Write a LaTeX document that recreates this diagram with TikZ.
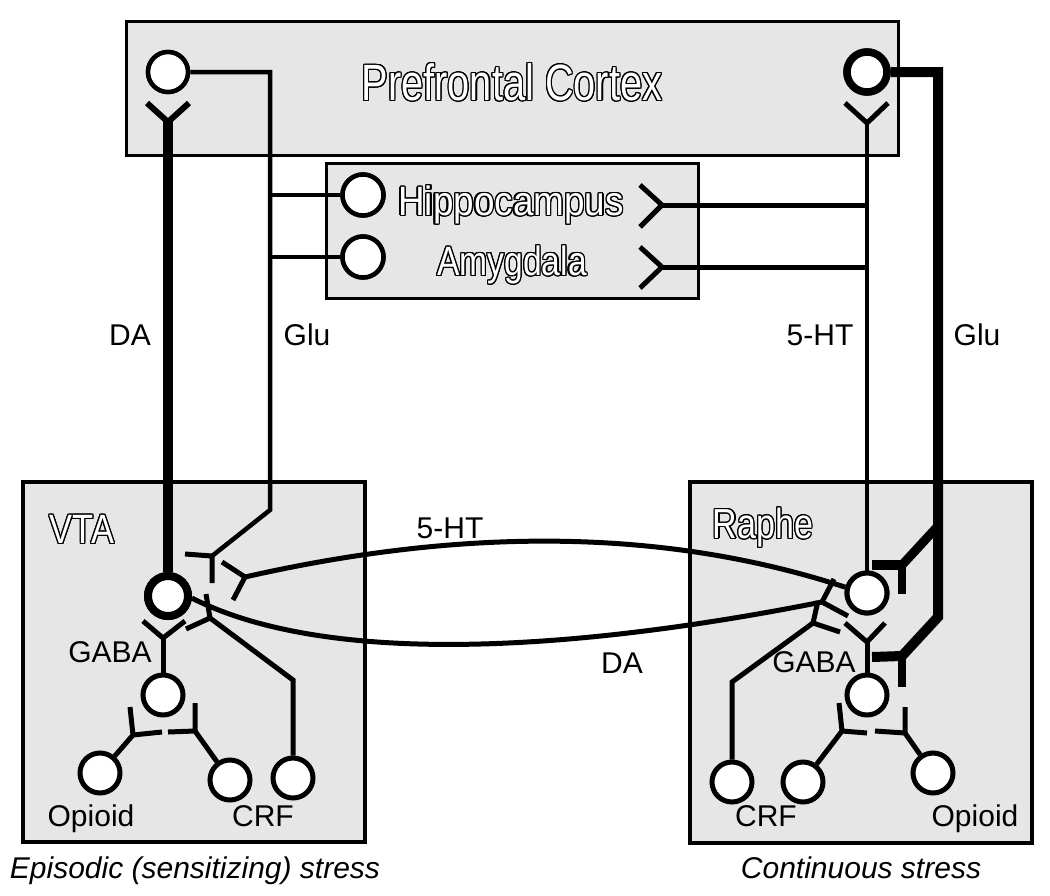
\documentclass[tikz,border=0pt]{standalone}
\usepackage{fontspec}
\setmainfont{Liberation Sans}
\usepackage{contour}
\contourlength{1.4pt}
\usepackage{graphicx}
\definecolor{boxgray}{RGB}{230,230,230}
\newcommand\outlbl[3]{\scalebox{#2}[1]{\fontsize{#1}{#1}\selectfont\color{white}\contour{black}{#3}}}
\begin{document}
\begin{tikzpicture}[x=1pt,y=-1pt,
  region/.style={draw=black, fill=boxgray, line width=4pt, inner sep=0pt},
  neuron/.style={circle, draw=black, fill=white, line width=5pt, minimum size=40pt, inner sep=0pt},
  axon/.style={line width=5pt},
  bigaxon/.style={line width=10pt},
  lbl/.style={font=\fontsize{30}{36}\selectfont, inner sep=0pt, anchor=base},
  olbl/.style={inner sep=0pt, anchor=base}]
\useasboundingbox (0,0) rectangle (1050,895);

% regions
\node[region, line width=3pt, minimum width=772pt, minimum height=134pt] (pfc) at (512,88) {};
\node[region, line width=3pt, minimum width=372pt, minimum height=135pt] (mid) at (512,230.5) {};
\node[region, minimum width=342pt, minimum height=360pt] (vta) at (194,662) {};
\node[region, minimum width=342pt, minimum height=361pt] (raphe) at (861,662.5) {};

% neurons
\node[neuron, line width=4.5pt] (pfcL) at (168,72) {};
\node[neuron, line width=7.5pt] (pfcR) at (867,72) {};
\node[neuron, line width=4.5pt, minimum size=41pt] (hip) at (363,195) {};
\node[neuron, line width=4.5pt, minimum size=41pt] (amy) at (363,257) {};
\node[neuron, line width=8pt] (daV) at (168,596) {};
\node[neuron] (gabaV) at (163,695) {};
\node[neuron] (opV) at (100,773) {};
\node[neuron] (crfVa) at (230,780) {};
\node[neuron] (crfVb) at (293,778) {};
\node[neuron] (htR) at (867,593) {};
\node[neuron] (gabaR) at (867,695) {};
\node[neuron] (crfR) at (732,782) {};
\node[neuron] (midR) at (803,782) {};
\node[neuron] (opR) at (933,773) {};

% coordinates
\coordinate (gluL1) at (270,72);
\coordinate (gluL2) at (270,510);
\coordinate (gluLh) at (270,195);
\coordinate (gluLa) at (270,257);
\coordinate (vGluJ) at (212,556);
\coordinate (daY) at (168,122);
\coordinate (htY) at (867,123);
\coordinate (hipY) at (662,205);
\coordinate (amyY) at (662,267);
\coordinate (hipE) at (867,205);
\coordinate (amyE) at (867,267);
\coordinate (gluR1) at (938,72);
\coordinate (gluR2) at (938,617);
\coordinate (gluRb) at (938,526);
\coordinate (gluJ1) at (902,565);
\coordinate (gluJ2) at (902,656);
\coordinate (vHtJ) at (245,577);
\coordinate (rDaJ) at (822,602);
\coordinate (vCrf1) at (293,680);
\coordinate (vCrfJ) at (210,618);
\coordinate (rCrf1) at (732,682);
\coordinate (rCrfJ) at (813,623);
\coordinate (vGabaY) at (163,638);
\coordinate (rGabaY) at (867,642);
\coordinate (vOpJ) at (133,735);
\coordinate (vCrJ) at (195,731);
\coordinate (rMdJ) at (842,731);
\coordinate (rOpJ) at (905,733);

% Glu from PFC (left)
\draw[axon, line width=4.5pt] (pfcL.east) -- (gluL1) -- (gluL2) -- (vGluJ);
\draw[axon, line width=4.5pt] (gluLh) -- (hip.west);
\draw[axon, line width=4.5pt] (gluLa) -- (amy.west);
\draw[axon] (185,554) -- (vGluJ) -- (212,583);

% DA from VTA to PFC
\draw[bigaxon] (daV.north) -- (daY);
\draw[line width=6pt] (147,103) -- (daY) -- (189,103);

% 5-HT from Raphe to PFC, hippocampus, amygdala
\draw[axon, line width=4.5pt] (htR.north) -- (htY);
\draw[axon] (845,103) -- (htY) -- (888,103);
\draw[axon] (hipY) -- (hipE);
\draw[axon] (640,185) -- (hipY) -- (640,227);
\draw[axon] (amyY) -- (amyE);
\draw[axon] (640,247) -- (amyY) -- (640,288);

% Glu from PFC (right) to Raphe
\draw[bigaxon] (pfcR.east) -- (gluR1) -- (gluR2) -- (gluJ2);
\draw[line width=9pt] (gluRb) -- (gluJ1);
\draw[line width=10pt] (872,565) -- (gluJ1);
\draw[line width=8pt] (902,561) -- (902,594);
\draw[line width=10pt] (872,657) -- (gluJ2);
\draw[line width=8pt] (902,652) -- (902,687);

% 5-HT Raphe -> VTA
\draw[axon] (htR.165) .. controls (640,520) and (430,535) .. (vHtJ);
\draw[axon] (222,562) -- (vHtJ) -- (233,600);

% DA VTA -> Raphe
\draw[axon] (daV.-5) .. controls (330,668) and (580,650) .. (rDaJ);
\draw[axon] (834,579) -- (rDaJ) -- (848,616);

% CRF in VTA
\draw[axon] (crfVb.north) -- (vCrf1) -- (vCrfJ);
\draw[axon] (206,594) -- (vCrfJ) -- (186,629);

% CRF in Raphe
\draw[axon] (crfR.north) -- (rCrf1) -- (rCrfJ);
\draw[axon] (818,601) -- (rCrfJ) -- (840,632);

% GABA neurons
\draw[axon] (gabaV.north) -- (vGabaY);
\draw[axon] (143,621) -- (vGabaY) -- (185,621);
\draw[axon] (gabaR.north) -- (rGabaY);
\draw[axon] (845,623) -- (rGabaY) -- (885,623);

% Opioid / other terminals in VTA
\draw[axon] (opV) -- (vOpJ);
\draw[axon] (130,707) -- (vOpJ) -- (162,732);
\draw[axon] (crfVa) -- (vCrJ);
\draw[axon] (195,703) -- (vCrJ) -- (168,732);

% terminals in Raphe
\draw[axon] (midR) -- (rMdJ);
\draw[axon] (839,703) -- (rMdJ) -- (867,733);
\draw[axon] (opR) -- (rOpJ);
\draw[axon] (905,707) -- (rOpJ) -- (875,731);

% redraw neurons on top
\node[neuron, line width=4.5pt] at (pfcL) {};
\node[neuron, line width=7.5pt] at (pfcR) {};
\node[neuron, line width=4.5pt, minimum size=41pt] at (hip) {};
\node[neuron, line width=4.5pt, minimum size=41pt] at (amy) {};
\node[neuron, line width=8pt] at (daV) {};
\node[neuron] at (htR) {};

% outlined region labels
\node[olbl] (tPfc) at (512,100.5) {\outlbl{51}{0.78}{Prefrontal Cortex}};
\node[olbl] (tHip) at (511,215.5) {\outlbl{41}{0.90}{Hippocampus}};
\node[olbl] (tAmy) at (512,275.5) {\outlbl{41}{0.82}{Amygdala}};
\node[olbl] (tVta) at (82,543.5) {\outlbl{41}{0.84}{VTA}};
\node[olbl] (tRaphe) at (763,538.5) {\outlbl{42}{0.81}{Raphe}};

% plain labels
\node[lbl] (lDA) at (130,345) {DA};
\node[lbl] (lGluL) at (307,345) {Glu};
\node[lbl] (l5HT) at (820,345) {5-HT};
\node[lbl] (lGluR) at (977,345) {Glu};
\node[lbl] (m5HT) at (450,538) {5-HT};
\node[lbl] (mDA) at (622,673) {DA};
\node[lbl] (gV) at (110,662) {GABA};
\node[lbl] (gR) at (814,672) {GABA};
\node[lbl] (oV) at (91,826) {Opioid};
\node[lbl] (cV) at (263,826) {CRF};
\node[lbl] (cR) at (766,826) {CRF};
\node[lbl] (oR) at (975,826) {Opioid};
\node[lbl, font=\fontsize{30}{36}\selectfont\itshape] (capL) at (195,878) {Episodic (sensitizing) stress};
\node[lbl, font=\fontsize{30}{36}\selectfont\itshape] (capR) at (861,878) {Continuous stress};
\end{tikzpicture}
\end{document}
